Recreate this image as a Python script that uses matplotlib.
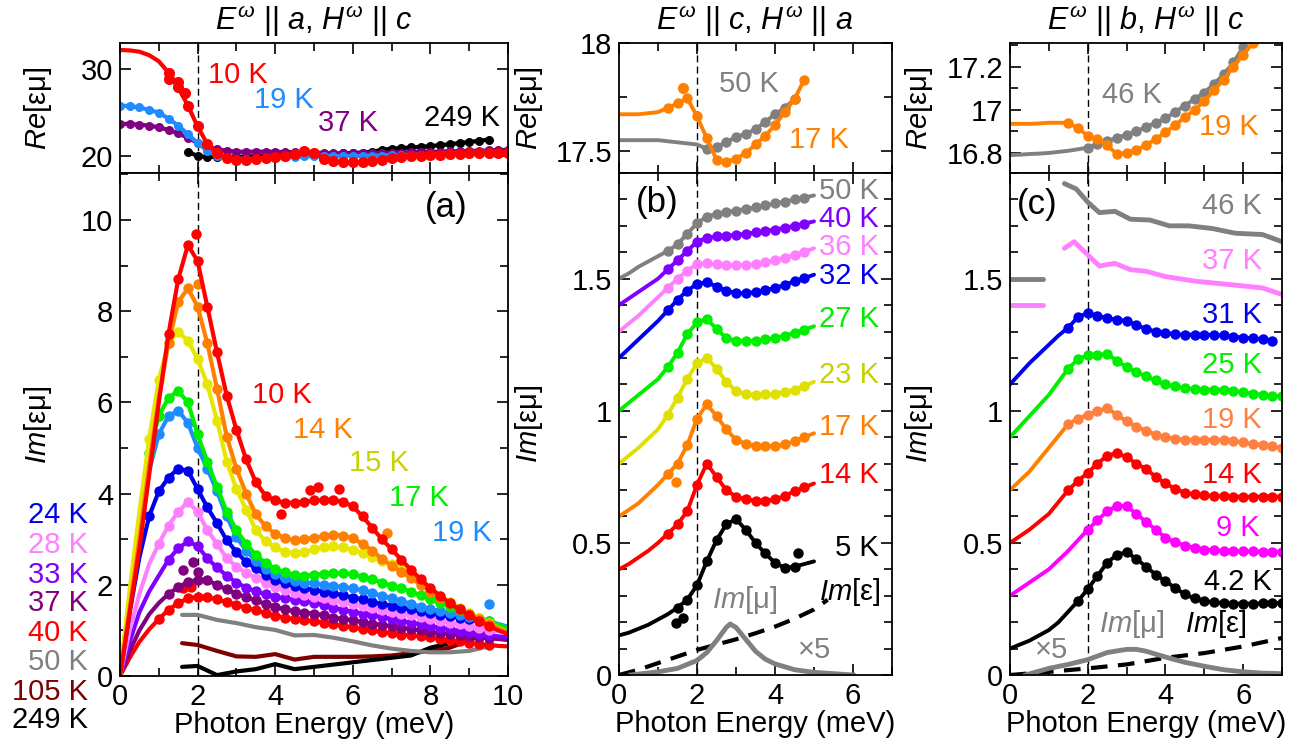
import numpy as np
import matplotlib.pyplot as plt
from matplotlib.ticker import MultipleLocator

plt.rcParams['font.family'] = ['Liberation Sans', 'DejaVu Sans']
plt.rcParams['mathtext.fontset'] = 'custom'
plt.rcParams['mathtext.rm'] = 'Liberation Sans'
plt.rcParams['mathtext.it'] = 'Liberation Sans:italic'
plt.rcParams['font.size'] = 21

nan = np.nan
FS = 21

# ---------------- panel (a): E || a, H || c ----------------
e_a = [0, 0.25, 0.5, 0.75, 1, 1.25, 1.5, 1.75, 2, 2.25,
       2.5, 2.75, 3, 3.25, 3.5, 3.75, 4, 4.25, 4.5, 4.75,
       5, 5.25, 5.5, 5.75, 6, 6.25, 6.5, 6.75, 7, 7.25,
       7.5, 7.75, 8, 8.25, 8.5, 8.75, 9, 9.25, 9.5, 9.75, 10]

# Re[eps mu]
re_a_10K = [32.2, 32.15, 32.0, 31.6, 30.9, 29.6, 27.9, 25.8, 23.4, 21.4,
            20.3, 19.8, 19.6, 19.6, 19.7, 19.8, 19.9, 20.0, 20.2, 20.6,
            20.4, 19.7, 19.4, 19.3, 19.3, 19.3, 19.4, 19.6, 19.8, 19.9,
            20.0, 20.05, 20.1, 20.15, 20.2, 20.25, 20.3, 20.3, 20.35, 20.4, 20.4]
re_a_19K = [25.8, 25.75, 25.6, 25.3, 25.0, 24.3, 23.5, 22.5, 21.5, 20.6,
            20.0, 19.8, 19.7, 19.7, 19.7, 19.75, 19.8, 19.85, 19.9, 19.95,
            20.0, 20.0, 20.0, 20.0, 20.0, 20.0, 20.05, 20.05, 20.1, 20.1,
            20.15, 20.15, 20.2, 20.25, 20.3, 20.35, 20.4, 20.45, 20.5, nan, nan]
re_a_37K = [23.7, 23.7, 23.6, 23.5, 23.3, 23.0, 22.6, 22.1, 21.5, 21.1,
            20.8, 20.6, 20.5, 20.5, 20.5, 20.5, 20.5, 20.45, 20.45, 20.4,
            20.4, 20.35, 20.3, 20.3, 20.3, 20.3, 20.35, 20.35, 20.4, 20.4,
            20.45, 20.45, 20.5, 20.5, 20.55, 20.55, 20.6, 20.6, 20.65, 20.7, 20.7]
re_a_249K = [nan, nan, nan, nan, nan, nan, nan, 20.5, 20.0, 19.9,
             19.9, 19.9, 19.9, 19.95, 19.95, 20.0, 20.0, 20.05, 20.1, 20.1,
             20.15, 20.2, 20.25, 20.3, 20.35, 20.4, 20.5, 20.7, 20.85, 20.9,
             21.0, 21.05, 21.15, 21.25, 21.35, 21.5, 21.6, 21.75, 21.9, nan, nan]
re_a_extra_x = [1.25, 1.5, 1.68]
re_a_extra_y = [28.9, 28.5, 27.3]

# Im[eps mu]
im_a_temps = ['10 K', '14 K', '15 K', '17 K', '19 K', '24 K', '28 K', '33 K', '37 K', '40 K']
im_a = [
    [0, 1.4, 2.8, 4.4, 6.0, 7.5, 8.7, 9.45, 9.1, 8.1,
     7.1, 6.15, 5.4, 4.75, 4.25, 3.95, 3.85, 3.8, 3.8, 3.82,
     3.85, 3.86, 3.86, 3.82, 3.72, 3.5, 3.25, 3.0, 2.78, 2.55,
     2.33, 2.12, 1.93, 1.76, 1.6, 1.46, 1.33, 1.21, 1.1, 1.0, 0.92],
    [0, 1.5, 3.0, 4.6, 6.1, 7.3, 8.2, 8.5, 8.1, 7.3,
     6.3, 5.25, 4.55, 4.0, 3.55, 3.28, 3.12, 3.02, 2.98, 3.0,
     3.03, 3.07, 3.1, 3.08, 3.02, 2.9, 2.75, 2.57, 2.42, 2.28,
     2.15, 2.0, 1.85, 1.72, 1.6, 1.48, 1.37, 1.26, 1.15, 1.05, 0.96],
    [0, 1.9, 3.6, 5.2, 6.5, 7.3, 7.55, 7.35, 6.95, 6.4,
     5.6, 4.7, 4.1, 3.65, 3.2, 2.95, 2.82, 2.72, 2.69, 2.72,
     2.78, 2.83, 2.84, 2.82, 2.76, 2.7, 2.62, 2.52, 2.45, 2.36,
     2.22, 2.06, 1.9, 1.76, 1.63, 1.5, 1.38, 1.27, 1.16, 1.06, 0.97],
    [0, 1.8, 3.5, 4.9, 5.7, 6.1, 6.25, 6.0, 5.3, 4.7,
     4.15, 3.6, 3.2, 2.9, 2.65, 2.48, 2.35, 2.27, 2.22, 2.2,
     2.22, 2.24, 2.25, 2.25, 2.23, 2.18, 2.12, 2.05, 1.98, 1.92,
     1.85, 1.77, 1.69, 1.6, 1.52, 1.44, 1.36, 1.28, 1.2, 1.12, 1.05],
    [0, 1.6, 3.2, 4.5, 5.3, 5.7, 5.82, 5.55, 5.0, 4.55,
     4.05, 3.5, 3.05, 2.75, 2.52, 2.35, 2.24, 2.15, 2.08, 2.05,
     2.03, 2.0, 1.98, 1.95, 1.92, 1.88, 1.82, 1.76, 1.7, 1.65,
     1.58, 1.52, 1.47, 1.42, 1.38, 1.34, 1.3, 1.26, 1.2, 1.14, 1.08],
    [0, 1.4, 2.6, 3.5, 4.05, 4.35, 4.55, 4.5, 4.1, 3.7,
     3.35, 2.98, 2.72, 2.5, 2.36, 2.22, 2.11, 2.03, 1.97, 1.92,
     1.89, 1.85, 1.81, 1.77, 1.72, 1.68, 1.63, 1.58, 1.54, 1.5,
     1.46, 1.42, 1.38, 1.34, 1.31, 1.28, 1.25, 1.2, 1.15, 1.1, 1.05],
    [0, 1.0, 1.8, 2.45, 2.9, 3.3, 3.6, 3.82, 3.6, 3.2,
     2.9, 2.58, 2.4, 2.26, 2.15, 2.05, 1.96, 1.89, 1.83, 1.78,
     1.74, 1.7, 1.66, 1.62, 1.58, 1.54, 1.5, 1.45, 1.41, 1.37,
     1.33, 1.29, 1.25, 1.21, 1.17, 1.13, 1.09, 1.05, 1.01, 0.98, 0.95],
    [0, 0.75, 1.4, 1.85, 2.2, 2.55, 2.8, 2.95, 2.85, 2.58,
     2.38, 2.2, 2.05, 1.94, 1.86, 1.79, 1.74, 1.7, 1.67, 1.64,
     1.61, 1.56, 1.5, 1.45, 1.41, 1.37, 1.33, 1.29, 1.25, 1.21,
     1.17, 1.13, 1.09, 1.06, 1.02, 0.99, 0.96, 0.93, 0.9, 0.87, 0.85],
    [0, 0.55, 1.0, 1.35, 1.6, 1.8, 1.95, 2.06, 2.11, 2.1,
     2.0, 1.9, 1.8, 1.73, 1.66, 1.58, 1.52, 1.46, 1.42, 1.39,
     1.37, 1.33, 1.28, 1.25, 1.22, 1.18, 1.15, 1.12, 1.09, 1.06,
     1.03, 1.0, 0.97, 0.94, 0.92, 0.9, 0.88, 0.85, 0.83, 0.81, 0.79],
    [0, 0.4, 0.75, 1.02, 1.25, 1.45, 1.6, 1.7, 1.74, 1.73,
     1.68, 1.62, 1.56, 1.5, 1.44, 1.38, 1.32, 1.28, 1.25, 1.22,
     1.2, 1.17, 1.13, 1.1, 1.07, 1.03, 1.0, 0.97, 0.94, 0.91,
     0.89, 0.87, 0.85, 0.82, 0.79, 0.76, 0.73, 0.7, 0.68, 0.66, 0.65],
]
im_a_dot_from = [1.25, 1.25, 0.75, 0.75, 1.0, 0.75, 1.0, 1.25, 1.25, 1.0]
# scattered data points off the fits
im_a_extra = {
    '10 K': ([1.95, 4.15, 4.9, 5.1, 5.65], [9.7, 3.55, 4.08, 4.15, 4.1]),
    '14 K': ([2.0, 6.87], [8.6, 3.13]),
    '19 K': ([9.5], [1.58]),
    '33 K': ([9.5], [1.19]),
    '37 K': ([1.63, 1.88, 2.01], [2.33, 2.51, 2.29]),
    '40 K': ([1.63, 1.84], [1.92, 1.96]),
}

e_a_hi = [1.6, 2.0, 2.5, 3.0, 3.5, 4.0, 4.5, 5.0, 5.5, 6.0, 6.5, 7.0, 7.5, 8.0, 8.5, 9.0, 9.5]
im_a_50K = [1.34, 1.34, 1.23, 1.16, 1.07, 1.01, 0.89, 0.9, 0.84, 0.76, 0.67, 0.6, 0.55, 0.52, 0.52, 0.55, 0.65]
im_a_105K = [0.72, 0.68, 0.55, 0.43, 0.42, 0.48, 0.36, 0.42, 0.42, 0.42, 0.43, 0.45, 0.5, 0.55, 0.62, 0.78, 0.95]
im_a_249K = [0.2, 0.22, 0.02, 0.1, 0.15, 0.26, 0.15, 0.2, 0.25, 0.3, 0.35, 0.4, 0.45, 0.62, 0.72, 0.85, 1.0]

# ---------------- panel (b): E || c, H || a ----------------
e_b_re = [0, 0.25, 0.5, 0.75, 1, 1.25, 1.5, 1.75, 2, 2.25,
          2.5, 2.75, 3, 3.25, 3.5, 3.75, 4, 4.25, 4.5, 4.75]
re_b_17K = [17.67, 17.67, 17.67, 17.675, 17.68, 17.70, 17.72, 17.745, 17.66, 17.56,
            17.46, 17.45, 17.465, 17.49, 17.53, 17.57, 17.62, 17.68, 17.74, 17.83]
re_b_50K = [17.55, 17.55, 17.55, 17.55, 17.55, 17.545, 17.54, 17.535, 17.53, 17.51,
            17.52, 17.54, 17.565, 17.58, 17.6, 17.635, 17.67, 17.7, 17.74, nan]
re_b_extra_x = [1.65]
re_b_extra_y = [17.79]

e_b = [0, 0.25, 0.5, 0.75, 1, 1.25, 1.5, 1.75, 2, 2.25,
       2.5, 2.75, 3, 3.25, 3.5, 3.75, 4, 4.25, 4.5, 4.75, 5]
im_b_temps = ['50 K', '40 K', '36 K', '32 K', '27 K', '23 K', '17 K', '14 K', '5 K']
im_b = [
    [1.50, 1.52, 1.545, 1.565, 1.585, 1.605, 1.63, 1.67, 1.71, 1.735,
     1.745, 1.752, 1.758, 1.764, 1.77, 1.777, 1.785, 1.792, 1.80, 1.807, 1.815],
    [1.40, 1.425, 1.45, 1.475, 1.50, 1.535, 1.57, 1.605, 1.64, 1.655,
     1.66, 1.663, 1.666, 1.67, 1.675, 1.68, 1.686, 1.693, 1.70, 1.708, 1.717],
    [1.30, 1.33, 1.36, 1.395, 1.43, 1.465, 1.50, 1.53, 1.555, 1.558,
     1.555, 1.552, 1.55, 1.552, 1.555, 1.562, 1.57, 1.58, 1.59, 1.602, 1.615],
    [1.20, 1.235, 1.27, 1.305, 1.34, 1.38, 1.42, 1.455, 1.48, 1.487,
     1.47, 1.455, 1.445, 1.445, 1.45, 1.457, 1.465, 1.477, 1.49, 1.502, 1.515],
    [1.00, 1.03, 1.06, 1.09, 1.12, 1.165, 1.22, 1.29, 1.335, 1.348,
     1.31, 1.275, 1.265, 1.263, 1.265, 1.27, 1.275, 1.284, 1.295, 1.307, 1.32],
    [0.80, 0.83, 0.86, 0.895, 0.93, 0.985, 1.05, 1.12, 1.18, 1.2,
     1.16, 1.11, 1.075, 1.063, 1.06, 1.062, 1.065, 1.072, 1.08, 1.093, 1.11],
    [0.60, 0.625, 0.65, 0.685, 0.72, 0.76, 0.80, 0.87, 0.97, 1.025,
     0.98, 0.93, 0.89, 0.875, 0.868, 0.865, 0.865, 0.873, 0.885, 0.9, 0.915],
    [0.40, 0.42, 0.445, 0.47, 0.50, 0.535, 0.57, 0.62, 0.72, 0.8,
     0.75, 0.70, 0.675, 0.665, 0.66, 0.66, 0.665, 0.678, 0.695, 0.71, 0.725],
    [0.15, 0.16, 0.175, 0.19, 0.21, 0.23, 0.255, 0.285, 0.34, 0.43,
     0.51, 0.57, 0.59, 0.55, 0.50, 0.46, 0.425, 0.405, 0.41, 0.42, 0.43],
]
im_b_extra = {
    '17 K': ([1.47], [0.73]),
    '5 K': ([1.47, 1.65, 4.6], [0.196, 0.215, 0.46]),
}
e_b_eps = [0, 0.5, 1.0, 1.5, 2.0, 2.5, 3.0, 3.5, 4.0, 4.5, 5.0, 5.35]
im_b_eps = [0.0, 0.02, 0.045, 0.07, 0.095, 0.115, 0.135, 0.158, 0.183, 0.213, 0.248, 0.285]
e_b_mu = [0.3, 1.0, 1.5, 2.0, 2.25, 2.5, 2.75, 2.85, 3.0, 3.25, 3.5, 3.75, 4.0, 4.5, 5.0, 5.5, 6.0]
im_b_mu = [0.0, 0.012, 0.025, 0.055, 0.085, 0.13, 0.18, 0.193, 0.18, 0.135, 0.09, 0.06, 0.042, 0.02, 0.01, 0.005, 0.0]

# ---------------- panel (c): E || b, H || c ----------------
e_c_re = [0, 0.25, 0.5, 0.75, 1, 1.25, 1.5, 1.75, 2, 2.25,
          2.5, 2.75, 3, 3.25, 3.5, 3.75, 4, 4.25, 4.5, 4.75,
          5, 5.25, 5.5, 5.75, 6, 6.25]
re_c_19K = [16.935, 16.935, 16.935, 16.937, 16.94, 16.94, 16.94, 16.915, 16.88, 16.865,
            16.835, 16.795, 16.80, 16.815, 16.835, 16.865, 16.895, 16.93, 16.965, 17.0,
            17.04, 17.09, 17.14, 17.2, 17.255, 17.31]
re_c_46K = [16.79, 16.792, 16.795, 16.797, 16.80, 16.805, 16.81, 16.817, 16.825, 16.84,
            16.855, 16.87, 16.885, 16.9, 16.92, 16.94, 16.96, 16.99, 17.02, 17.05,
            17.08, 17.12, 17.165, 17.22, 17.29, nan]

e_c = [0, 0.25, 0.5, 0.75, 1, 1.25, 1.5, 1.75, 2, 2.25,
       2.5, 2.75, 3, 3.25, 3.5, 3.75, 4, 4.25, 4.5, 4.75,
       5, 5.25, 5.5, 5.75, 6, 6.25, 6.5, 6.75, 7]
im_c_temps = ['31 K', '25 K', '19 K', '14 K', '9 K', '4.2 K']
im_c = [
    [1.10, 1.14, 1.18, 1.215, 1.25, 1.285, 1.315, 1.355, 1.37, 1.36,
     1.35, 1.345, 1.34, 1.325, 1.31, 1.30, 1.295, 1.29, 1.288, 1.288,
     1.288, 1.287, 1.285, 1.281, 1.277, 1.274, 1.27, 1.266, nan],
    [0.90, 0.94, 0.98, 1.02, 1.06, 1.11, 1.16, 1.195, 1.21, 1.212,
     1.215, 1.19, 1.165, 1.147, 1.13, 1.115, 1.10, 1.092, 1.085, 1.082,
     1.08, 1.08, 1.08, 1.075, 1.07, 1.065, 1.06, 1.057, 1.055],
    [0.70, 0.735, 0.77, 0.815, 0.86, 0.905, 0.95, 0.97, 0.985, 1.0,
     1.01, 0.985, 0.96, 0.94, 0.925, 0.91, 0.90, 0.895, 0.89, 0.89,
     0.89, 0.89, 0.89, 0.885, 0.88, 0.875, 0.87, 0.865, 0.86],
    [0.50, 0.525, 0.55, 0.58, 0.61, 0.655, 0.70, 0.735, 0.765, 0.80,
     0.83, 0.84, 0.825, 0.80, 0.78, 0.75, 0.725, 0.705, 0.69, 0.684,
     0.68, 0.678, 0.676, 0.675, 0.675, 0.675, 0.675, 0.675, 0.675],
    [0.30, 0.325, 0.35, 0.375, 0.40, 0.435, 0.47, 0.51, 0.55, 0.585,
     0.62, 0.64, 0.64, 0.61, 0.58, 0.55, 0.52, 0.503, 0.49, 0.482,
     0.475, 0.472, 0.47, 0.469, 0.468, 0.468, 0.467, 0.467, 0.467],
    [0.10, 0.115, 0.13, 0.15, 0.17, 0.20, 0.24, 0.28, 0.325, 0.375,
     0.425, 0.455, 0.465, 0.44, 0.41, 0.38, 0.355, 0.33, 0.305, 0.29,
     0.28, 0.275, 0.272, 0.27, 0.27, 0.27, 0.271, 0.272, 0.272],
]
im_c_dot_from = [1.5, 1.5, 1.5, 1.5, 2.0, 1.75]
e_c_46K = [1.4, 1.7, 2.0, 2.3, 2.7, 3.1, 3.6, 4.1, 4.6, 5.2, 5.8, 6.5, 7.0]
im_c_46K = [1.86, 1.84, 1.79, 1.75, 1.755, 1.725, 1.722, 1.70, 1.70, 1.69, 1.672, 1.667, 1.64]
e_c_37K = [1.4, 1.65, 2.0, 2.3, 2.7, 3.1, 3.5, 4.0, 4.8, 5.7, 6.5, 7.0]
im_c_37K = [1.615, 1.64, 1.59, 1.548, 1.558, 1.534, 1.528, 1.508, 1.49, 1.477, 1.465, 1.44]
e_c_stub = [0, 0.85]
im_c_stub_46K = [1.5, 1.5]
im_c_stub_37K = [1.4, 1.4]
e_c_eps = [0, 1, 2, 3, 4, 5, 6, 7]
im_c_eps = [0.0, 0.012, 0.025, 0.04, 0.065, 0.083, 0.108, 0.14]
e_c_mu = [0.4, 1.0, 1.5, 2.0, 2.5, 3.0, 3.25, 3.5, 4.0, 4.5, 5.0, 5.5, 6.0, 6.5, 7.0]
im_c_mu = [0.0, 0.025, 0.04, 0.058, 0.085, 0.097, 0.097, 0.09, 0.068, 0.048, 0.033, 0.02, 0.012, 0.007, 0.005]

# ---------------- colours ----------------
col = {'10 K': '#ff0000', '14 K': '#ff8000', '15 K': '#e6e600', '17 K': '#00ee00',
       '19 K': '#1e8cff', '24 K': '#0000ee', '28 K': '#ff80ff', '33 K': '#8000ff',
       '37 K': '#800080', '40 K': '#ff0000', '50 K': '#808080', '105 K': '#800000',
       '249 K': '#000000'}
col_b = {'50 K': '#808080', '40 K': '#8000ff', '36 K': '#ff80ff', '32 K': '#0000ee',
         '27 K': '#00ee00', '23 K': '#e0e000', '17 K': '#ff8000', '14 K': '#ff0000',
         '5 K': '#000000'}
col_c = {'46 K': '#808080', '37 K': '#ff80ff', '31 K': '#0000ee', '25 K': '#00ee00',
         '19 K': '#ff8000', '14 K': '#ff0000', '9 K': '#ff00ff', '4.2 K': '#000000'}
label_yellow = '#c8d200'
gray = '#808080'

W, H = 1304, 752
fig = plt.figure(figsize=(W / 100, H / 100), dpi=100)


def rect(x0, x1, y0, y1):
    return [x0 / W, 1 - y1 / H, (x1 - x0) / W, (y1 - y0) / H]


ax_ar = fig.add_axes(rect(120, 508, 43, 173))
ax_ai = fig.add_axes(rect(120, 508, 173, 676))
ax_br = fig.add_axes(rect(619, 892, 43, 173))
ax_bi = fig.add_axes(rect(619, 892, 173, 675))
ax_cr = fig.add_axes(rect(1010, 1282, 43, 173))
ax_ci = fig.add_axes(rect(1010, 1282, 173, 675))


def style(ax, xmax, ymaj, ymin=None):
    ax.set_xlim(0, xmax)
    ax.xaxis.set_major_locator(MultipleLocator(2))
    ax.xaxis.set_minor_locator(MultipleLocator(1))
    ax.yaxis.set_major_locator(MultipleLocator(ymaj))
    if ymin:
        ax.yaxis.set_minor_locator(MultipleLocator(ymin))
    ax.tick_params(which='both', direction='in', top=True, right=True, width=1.2,
                   labelsize=FS, pad=5)
    ax.tick_params(which='major', length=8)
    ax.tick_params(which='minor', length=6)
    for s in ax.spines.values():
        s.set_linewidth(1.3)
    ax.axvline(2, color='black', lw=1.0, ls=(0, (5, 3)), zorder=0)


def curve(ax, x, y, c, dot_from=None, dot_to=99, lw=2.8, ms=7.5, dc=None, z=2):
    x = np.asarray(x, float)
    y = np.asarray(y, float)
    ax.plot(x, y, color=c, lw=lw, zorder=z, solid_capstyle='round')
    if dot_from is not None:
        m = (x >= dot_from) & (x <= dot_to)
        ax.plot(x[m], y[m], 'o', color=dc or c, ms=ms, mew=0, zorder=z)


# ---- (a) Re ----
style(ax_ar, 10, 10)
ax_ar.set_ylim(18.05, 33.0)
ax_ar.tick_params(labelbottom=False)
curve(ax_ar, e_a, re_a_249K, col['249 K'], 1.7, 9.5, lw=3, ms=6.5)
curve(ax_ar, e_a, re_a_37K, col['37 K'], 0, 10, lw=3, ms=6.5)
curve(ax_ar, e_a, re_a_19K, col['19 K'], 0, 9.5, lw=3, ms=6.5)
curve(ax_ar, e_a, re_a_10K, col['10 K'], 1.25, 10, lw=3, ms=8)
ax_ar.plot(re_a_extra_x, re_a_extra_y, 'o', color=col['10 K'], ms=8, mew=0)
for t, xe, ye in [('10 K', 3.04, 29.3), ('19 K', 4.23, 26.4), ('37 K', 5.88, 23.8), ('249 K', 8.82, 24.4)]:
    ax_ar.text(xe, ye, t, color=col[t], ha='center', va='center', fontsize=FS)
ax_ar.set_ylabel(r'$Re$[εμ]', fontsize=FS)
ax_ar.yaxis.set_label_coords(-0.17, 0.5)

# ---- (a) Im ----
style(ax_ai, 10, 2, 1)
ax_ai.set_ylim(0, 11.03)
for t, xe, ye in [('105 K', e_a_hi, im_a_105K), ('249 K', e_a_hi, im_a_249K), ('50 K', e_a_hi, im_a_50K)]:
    curve(ax_ai, xe, ye, col[t], lw=3)
for t, y, d0 in list(zip(im_a_temps, im_a, im_a_dot_from))[::-1]:
    curve(ax_ai, e_a, y, col[t], d0, 9.5, lw=3, ms=7.5)
    if t in im_a_extra:
        ax_ai.plot(*im_a_extra[t], 'o', color=col[t], ms=7.5, mew=0)
for t, xe, ye in [('10 K', 4.18, 6.16), ('14 K', 5.23, 5.39), ('15 K', 6.68, 4.67),
                  ('17 K', 7.71, 3.90), ('19 K', 8.81, 3.14)]:
    c = label_yellow if t == '15 K' else col[t]
    ax_ai.text(xe, ye, t, color=c, ha='center', va='center', fontsize=FS)
ax_ai.text(8.4, 10.28, '(a)', ha='center', va='center', fontsize=25)
ax_ai.set_xlabel('Photon Energy (meV)', fontsize=FS, labelpad=0)
ax_ai.set_ylabel(r'$Im$[εμ]', fontsize=FS)
ax_ai.yaxis.set_label_coords(-0.17, 0.5)
for t, yp in zip(['24 K', '28 K', '33 K', '37 K', '40 K', '50 K', '105 K', '249 K'],
                 [515, 545, 575, 603, 633, 662, 692, 720]):
    fig.text(88 / W, 1 - yp / H, t, color=col[t], ha='right', va='center', fontsize=FS)

# ---- (b) Re ----
style(ax_br, 7, 0.5, 0.25)
ax_br.set_ylim(17.398, 18.0)
ax_br.set_yticks([17.5, 18.0])
ax_br.set_yticklabels(['17.5', '18'])
ax_br.tick_params(labelbottom=False)
curve(ax_br, e_b_re, re_b_50K, col_b['50 K'], 2.25, 4.5)
curve(ax_br, e_b_re, re_b_17K, col_b['17 K'], 1.25, 4.75)
ax_br.plot(re_b_extra_x, re_b_extra_y, 'o', color=col_b['17 K'], ms=8, mew=0)
ax_br.text(3.34, 17.81, '50 K', color=gray, ha='center', va='center', fontsize=FS)
ax_br.text(5.12, 17.55, '17 K', color=col_b['17 K'], ha='center', va='center', fontsize=FS)
ax_br.set_ylabel(r'$Re$[εμ]', fontsize=FS)
ax_br.yaxis.set_label_coords(-0.27, 0.5)

# ---- (b) Im ----
style(ax_bi, 7, 0.5, 0.1)
ax_bi.set_ylim(0, 1.9)
ax_bi.set_yticks([0, 0.5, 1, 1.5])
ax_bi.set_yticklabels(['0', '0.5', '1', '1.5'])
ax_bi.plot(e_b_eps, im_b_eps, color='black', lw=3, ls=(0, (4, 2.5)), zorder=2)
ax_bi.plot(e_b_mu, im_b_mu, color=gray, lw=3.5, zorder=2)
for t, y in zip(im_b_temps, im_b):
    d0, d1 = (1.5, 4.5) if t == '5 K' else (1.25, 4.75)
    curve(ax_bi, e_b, y, col_b[t], d0, d1)
    if t in im_b_extra:
        ax_bi.plot(*im_b_extra[t], 'o', color=col_b[t], ms=7.5, mew=0)
for t, yv in zip(im_b_temps, [1.83, 1.727, 1.62, 1.51, 1.347, 1.136, 0.94, 0.758, 0.48]):
    c = label_yellow if t == '23 K' else col_b[t]
    ax_bi.text(6.66, yv, t, color=c, ha='right', va='center', fontsize=FS)
ax_bi.text(6.71, 0.316, r'$Im$[ε]', color='black', ha='right', va='center', fontsize=FS)
ax_bi.text(3.21, 0.284, r'$Im$[μ]', color=gray, ha='center', va='center', fontsize=FS)
ax_bi.text(5.01, 0.095, '×5', color=gray, ha='center', va='center', fontsize=FS)
ax_bi.text(0.98, 1.79, '(b)', ha='center', va='center', fontsize=25)
ax_bi.set_xlabel('Photon Energy (meV)', fontsize=FS, labelpad=0)
ax_bi.set_ylabel(r'$Im$[εμ]', fontsize=FS)
ax_bi.yaxis.set_label_coords(-0.27, 0.5)

# ---- (c) Re ----
style(ax_cr, 7, 0.2, 0.1)
ax_cr.set_ylim(16.707, 17.31)
ax_cr.set_yticks([16.8, 17.0, 17.2])
ax_cr.set_yticklabels(['16.8', '17', '17.2'])
ax_cr.tick_params(labelbottom=False)
curve(ax_cr, e_c_re, re_c_46K, col_c['46 K'], 2.0, 6.0)
curve(ax_cr, e_c_re, re_c_19K, col_c['19 K'], 1.5, 6.25)
ax_cr.text(3.14, 17.07, '46 K', color=gray, ha='center', va='center', fontsize=FS)
ax_cr.text(5.63, 16.92, '19 K', color=col_c['19 K'], ha='center', va='center', fontsize=FS)
ax_cr.set_ylabel(r'$Re$[εμ]', fontsize=FS)
ax_cr.yaxis.set_label_coords(-0.276, 0.5)

# ---- (c) Im ----
style(ax_ci, 7, 0.5, 0.1)
ax_ci.set_ylim(0, 1.9)
ax_ci.set_yticks([0, 0.5, 1, 1.5])
ax_ci.set_yticklabels(['0', '0.5', '1', '1.5'])
ax_ci.plot(e_c_eps, im_c_eps, color='black', lw=3, ls=(0, (4, 2.5)), zorder=2)
ax_ci.plot(e_c_mu, im_c_mu, color=gray, lw=3.5, zorder=2)
curve(ax_ci, e_c_46K, im_c_46K, col_c['46 K'], lw=3.5)
curve(ax_ci, e_c_37K, im_c_37K, col_c['37 K'], lw=3.5)
curve(ax_ci, e_c_stub, im_c_stub_46K, col_c['46 K'], lw=3.5)
curve(ax_ci, e_c_stub, im_c_stub_37K, col_c['37 K'], lw=3.5)
for t, y, d0 in zip(im_c_temps, im_c, im_c_dot_from):
    dc = '#ff8040' if t == '19 K' else None
    curve(ax_ci, e_c, y, col_c[t], d0, 7.0, dc=dc)
for t, xv, yv in [('46 K', 6.48, 1.774), ('37 K', 6.48, 1.566), ('31 K', 6.48, 1.364),
                  ('25 K', 6.48, 1.174), ('19 K', 6.48, 0.966), ('14 K', 6.48, 0.758),
                  ('9 K', 6.43, 0.556), ('4.2 K', 6.74, 0.353)]:
    c = '#ff8040' if t == '19 K' else col_c[t]
    ax_ci.text(xv, yv, t, color=c, ha='right', va='center', fontsize=FS)
ax_ci.text(5.30, 0.193, r'$Im$[ε]', color='black', ha='center', va='center', fontsize=FS)
ax_ci.text(3.13, 0.193, r'$Im$[μ]', color=gray, ha='center', va='center', fontsize=FS)
ax_ci.text(1.08, 0.095, '×5', color=gray, ha='center', va='center', fontsize=FS)
ax_ci.text(0.69, 1.78, '(c)', ha='center', va='center', fontsize=25)
ax_ci.set_xlabel('Photon Energy (meV)', fontsize=FS, labelpad=0)
ax_ci.set_ylabel(r'$Im$[εμ]', fontsize=FS)
ax_ci.yaxis.set_label_coords(-0.276, 0.5)

# ---- titles ----
for xc, t in [(314, r'$E^{\omega}$ || $a$, $H^{\omega}$ || $c$'),
              (755, r'$E^{\omega}$ || $c$, $H^{\omega}$ || $a$'),
              (1146, r'$E^{\omega}$ || $b$, $H^{\omega}$ || $c$')]:
    fig.text(xc / W, 1 - 21 / H, t, ha='center', va='center', fontsize=22)

fig.savefig('out.png', dpi=100)
